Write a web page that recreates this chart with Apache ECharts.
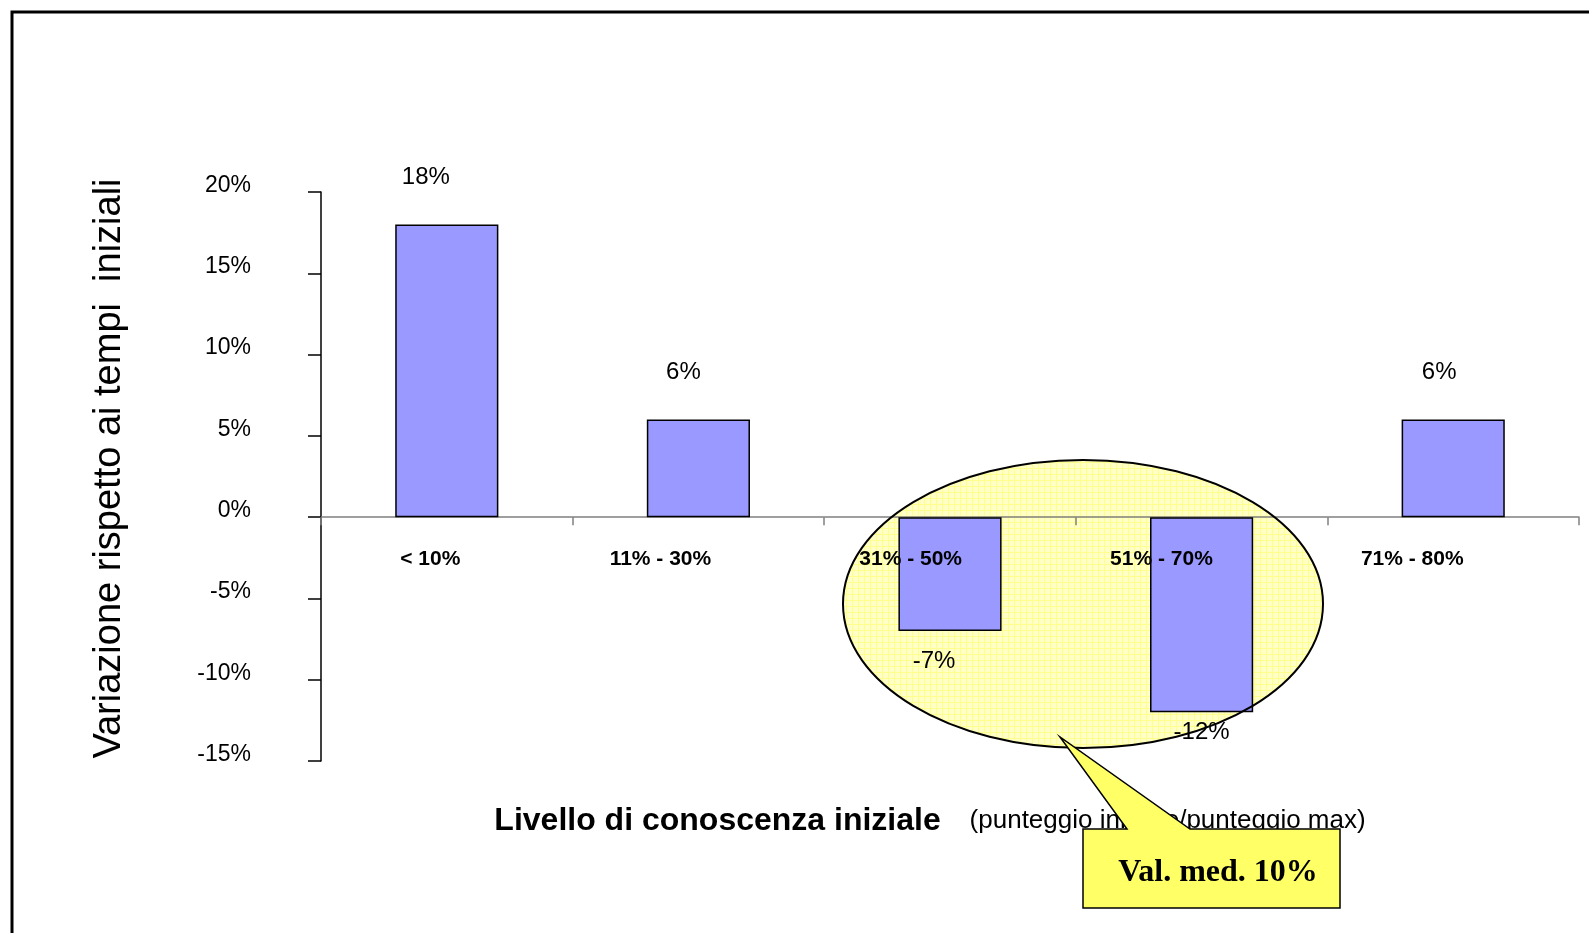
<!DOCTYPE html>
<html>
<head>
<meta charset="utf-8">
<title>Variazione rispetto ai tempi iniziali</title>
<script src="https://cdn.jsdelivr.net/npm/echarts@6/dist/echarts.min.js"></script>
<style>
  html, body { margin: 0; padding: 0; background: #fff; }
  #chart { width: 1589px; height: 933px; }
</style>
</head>
<body>
<div id="chart"></div>
<script>
// dati
const categories = ['< 10%', '11% - 30%', '31% - 50%', '51% - 70%', '71% - 80%'];
const values = [18, 6, -7, -12, 6];
const yMin = -15;
const yMax = 20;
const yStep = 5;
const avgNote = 'Val. med. 10%';

// spostamento etichette (px), come le mette Excel
const labelNudge = [[-21, -30], [-15, -30], [-16, 13], [0, 3], [-14, -30]];

const chart = echarts.init(document.getElementById('chart'));

// retino a quadretti per l'ellisse
const tile = document.createElement('canvas');
tile.width = 6;
tile.height = 6;
const ctx = tile.getContext('2d');
ctx.fillStyle = '#ffffc6';
ctx.fillRect(0, 0, 6, 6);
ctx.fillStyle = '#ffff8e';
ctx.fillRect(0, 0, 6, 1);
ctx.fillRect(0, 0, 1, 6);

const sans = 'Liberation Sans, Arial, sans-serif';

const option = {
  animation: false,
  backgroundColor: '#fff',
  grid: [
    { left: 321, right: 10, top: 192, bottom: 172 },
    // solo per le etichette delle categorie (spostate a destra) e il titolo dell'asse x;
    // il bordo inferiore coincide con lo 0%
    { left: 335, right: -4, top: 192, bottom: 415 }
  ],
  xAxis: [
    {
      type: 'category',
      gridIndex: 0,
      data: categories,
      axisLine: { lineStyle: { color: '#808080', width: 1.5 } },
      axisTick: { show: true, length: 8, lineStyle: { color: '#808080', width: 1.5 } },
      axisLabel: { show: false },
      splitLine: { show: false }
    },
    {
      type: 'category',
      gridIndex: 1,
      z: 50,
      data: categories,
      position: 'bottom',
      axisLine: { show: false, onZero: false },
      axisTick: { show: false },
      axisLabel: {
        align: 'right',
        margin: 31,
        fontFamily: sans,
        fontSize: 21,
        fontWeight: 'bold',
        color: '#000'
      },
      splitLine: { show: false },
      name: '{b|Livello di conoscenza iniziale}{n|    (punteggio iniziale/punteggio max)}',
      nameLocation: 'middle',
      nameGap: 287,
      nameTextStyle: {
        padding: [0, 64, 0, 0],
        rich: {
          b: { fontFamily: sans, fontSize: 32, fontWeight: 'bold', color: '#000' },
          n: { fontFamily: sans, fontSize: 26, color: '#000' }
        }
      }
    }
  ],
  yAxis: [
    {
      type: 'value',
      gridIndex: 0,
      min: yMin,
      max: yMax,
      interval: yStep,
      name: 'Variazione rispetto ai tempi  iniziali',
      nameLocation: 'middle',
      nameGap: 192,
      nameTextStyle: { fontFamily: sans, fontSize: 38, color: '#000', padding: [0, 0, 0, 16] },
      axisLine: { show: true, lineStyle: { color: '#000', width: 1.5 } },
      axisTick: { show: true, length: 13, lineStyle: { color: '#000', width: 1.5 } },
      axisLabel: {
        formatter: '{value}%',
        margin: 70,
        fontFamily: sans,
        fontSize: 23,
        color: '#000',
        verticalAlign: 'bottom',
        lineHeight: 13
      },
      splitLine: { show: false }
    },
    { type: 'value', gridIndex: 1, min: 0, max: 1, show: false }
  ],
  series: [
    {
      type: 'bar',
      xAxisIndex: 0,
      yAxisIndex: 0,
      barWidth: '41%',
      itemStyle: { color: '#9999ff', borderColor: '#000', borderWidth: 1.5 },
      label: {
        show: true,
        distance: 5,
        formatter: p => p.value + '%',
        fontFamily: sans,
        fontSize: 24,
        color: '#000'
      },
      data: values.map((v, i) => ({
        value: v,
        label: { position: v >= 0 ? 'top' : 'bottom', offset: labelNudge[i] }
      }))
    }
  ],
  graphic: [
    // cornice
    {
      type: 'rect',
      z: 100,
      shape: { x: 12, y: 12, width: 1620, height: 960 },
      style: { fill: 'none', stroke: '#000', lineWidth: 3 }
    },
    // ellisse: riempimento sotto le barre
    {
      type: 'ellipse',
      z: -10,
      shape: { cx: 1083, cy: 604, rx: 240, ry: 144 },
      style: { fill: { image: tile, repeat: 'repeat' }, stroke: 'none' }
    },
    {
      type: 'ellipse',
      z: 100,
      shape: { cx: 1083, cy: 604, rx: 240, ry: 144 },
      style: { fill: 'none', stroke: '#000', lineWidth: 2 }
    },
    // fumetto
    {
      type: 'polygon',
      z: 101,
      shape: {
        points: [
          [1083, 829], [1127, 829], [1060, 737], [1190, 829],
          [1340, 829], [1340, 908], [1083, 908]
        ]
      },
      style: { fill: '#ffff66', stroke: '#000', lineWidth: 1.5 }
    },
    {
      type: 'text',
      z: 102,
      x: 1218,
      y: 873,
      style: {
        text: avgNote,
        font: 'bold 32px "Liberation Serif", "Times New Roman", serif',
        fill: '#000',
        align: 'center',
        verticalAlign: 'middle'
      }
    }
  ]
};

chart.setOption(option);
window.addEventListener('resize', () => chart.resize());
</script>
</body>
</html>
